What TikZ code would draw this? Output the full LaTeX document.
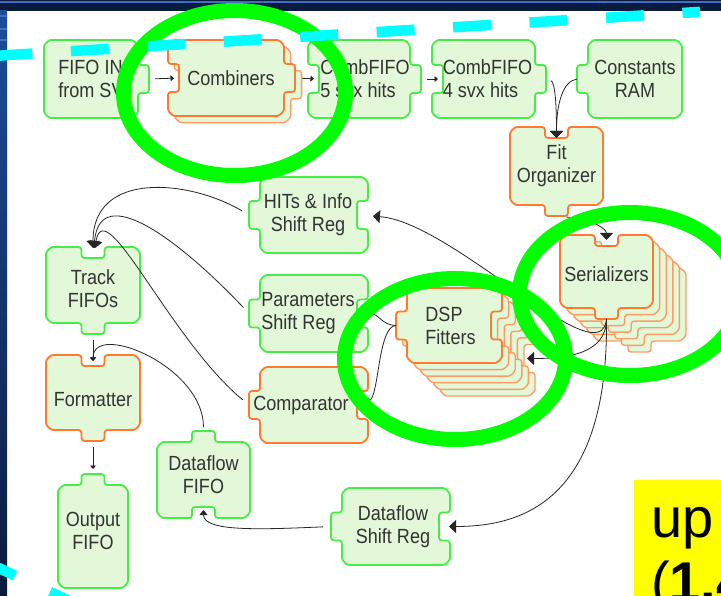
\documentclass[tikz,border=0pt]{standalone}
\usepackage{fontspec}
\setmainfont{Liberation Sans}[FakeStretch=0.88]
\newfontfamily\notefont{Liberation Sans}
\usepackage{xcolor}
\usepackage{tikz}
\usetikzlibrary{arrows.meta}

\definecolor{tilefill}{HTML}{E2F8D8}
\definecolor{tilegreen}{HTML}{44EE44}
\definecolor{tileorange}{HTML}{FF7A2E}
\definecolor{ringgreen}{HTML}{00FF00}
\definecolor{dashcyan}{HTML}{00FFFF}
\definecolor{noteyellow}{HTML}{FFFF00}
\definecolor{frameblue}{HTML}{1D4C9A}
\definecolor{framenavy}{HTML}{0B1B3E}
\definecolor{framelight}{HTML}{3F6FC4}

\newcommand\tilefont{\fontsize{20.5}{23}\selectfont}

% puzzle tiles: corner radius, tab half width (top/bottom), tab half height (sides), tab depth
\def\tabR{10}
\def\tabW{11.5}
\def\tabH{14}
\def\tabD{11}
\def\depthn{0}
\def\depthc{1}
\def\deptht{-1}

% side pieces: n = plain, c = notch cut in, t = tab sticking out
\def\sideNn{}
\def\sideNc{-- (\pX-\tabW,\pT) -- (\pX-\tabW,\pT+\tabD) -- (\pX+\tabW,\pT+\tabD) -- (\pX+\tabW,\pT)}
\def\sideNt{-- (\pX-\tabW,\pT) -- (\pX-\tabW,\pT-\tabD) -- (\pX+\tabW,\pT-\tabD) -- (\pX+\tabW,\pT)}
\def\sideEn{}
\def\sideEc{-- (\pR,\pY-\tabH) -- (\pR-\tabD,\pY-\tabH) -- (\pR-\tabD,\pY+\tabH) -- (\pR,\pY+\tabH)}
\def\sideEt{-- (\pR,\pY-\tabH) -- (\pR+\tabD,\pY-\tabH) -- (\pR+\tabD,\pY+\tabH) -- (\pR,\pY+\tabH)}
\def\sideSn{}
\def\sideSc{-- (\pX+\tabW,\pB) -- (\pX+\tabW,\pB-\tabD) -- (\pX-\tabW,\pB-\tabD) -- (\pX-\tabW,\pB)}
\def\sideSt{-- (\pX+\tabW,\pB) -- (\pX+\tabW,\pB+\tabD) -- (\pX-\tabW,\pB+\tabD) -- (\pX-\tabW,\pB)}
\def\sideWn{}
\def\sideWc{-- (\pL,\pY+\tabH) -- (\pL+\tabD,\pY+\tabH) -- (\pL+\tabD,\pY-\tabH) -- (\pL,\pY-\tabH)}
\def\sideWt{-- (\pL,\pY+\tabH) -- (\pL-\tabD,\pY+\tabH) -- (\pL-\tabD,\pY-\tabH) -- (\pL,\pY-\tabH)}

\tikzset{
  pN/.store in=\pN, pE/.store in=\pE, pS/.store in=\pS, pW/.store in=\pW,
  copies/.store in=\pCopies, rim/.store in=\pRim,
  tdx/.store in=\pDx, tdy/.store in=\pDy,
  talign/.style={tile text/.append style={align=#1}},
}

% \tile[options]{name}{left}{top}{right}{bottom}{text}
\newcommand{\tile}[7][]{%
  \begin{scope}[pN=n, pE=n, pS=n, pW=n, copies=0, rim=tilegreen, tdx=0, tdy=0, #1]
    \pgfmathsetmacro\pL{#3}\pgfmathsetmacro\pT{#4}%
    \pgfmathsetmacro\pR{#5}\pgfmathsetmacro\pB{#6}%
    \pgfmathsetmacro\pX{(#3+#5)/2}\pgfmathsetmacro\pY{(#4+#6)/2}%
    \edef\tilepath{(\pL,\pT+\tabR) arc[start angle=180, end angle=270, radius=\tabR]
      \csname sideN\pN\endcsname -- (\pR-\tabR,\pT) arc[start angle=270, end angle=360, radius=\tabR]
      \csname sideE\pE\endcsname -- (\pR,\pB-\tabR) arc[start angle=0, end angle=90, radius=\tabR]
      \csname sideS\pS\endcsname -- (\pL+\tabR,\pB) arc[start angle=90, end angle=180, radius=\tabR]
      \csname sideW\pW\endcsname -- cycle}%
    \ifnum\pCopies>0
      \foreach \layer in {\pCopies,...,1}
        \draw[tile back, shift={(\layer*6.6,\layer*6.6)}] \tilepath;
    \fi
    \draw[tile] \tilepath;
    % anchor points at the tab ends / notch floors
    \pgfmathsetmacro\yN{\pT+\csname depth\pN\endcsname*\tabD}%
    \pgfmathsetmacro\xE{\pR-\csname depth\pE\endcsname*\tabD}%
    \pgfmathsetmacro\yS{\pB-\csname depth\pS\endcsname*\tabD}%
    \pgfmathsetmacro\xW{\pL+\csname depth\pW\endcsname*\tabD}%
    \coordinate (#2-n) at (\pX,\yN);
    \coordinate (#2-e) at (\xE,\pY);
    \coordinate (#2-s) at (\pX,\yS);
    \coordinate (#2-w) at (\xW,\pY);
    \node[tile text] (#2) at (\pX+\pDx,\pY+\pDy) {#7};
  \end{scope}}

\begin{document}
\begin{tikzpicture}[x=1pt, y=-1pt,
    tile/.style={fill=tilefill, draw=\pRim, line width=1.8pt, rounded corners=3pt},
    tile back/.style={tile, draw=\pRim!75!white, line width=1.4pt},
    tile text/.style={font=\tilefont, text=black!80, align=center, inner sep=0pt},
    flow/.style={draw=black!85, line width=0.8pt, -{Triangle[length=7pt, width=13pt]}},
    link/.style={draw=black!85, line width=0.8pt, shorten <=6pt, shorten >=5pt, -{Triangle[length=3.5pt, width=6pt]}},
    ring/.style={draw=ringgreen, line width=15pt},
    dashline/.style={draw=dashcyan, line width=10.5pt, dash pattern=on 38pt off 38.6pt},
    note/.style={font=\notefont\fontsize{56}{60}\selectfont, inner sep=0pt, anchor=base west}
]
\useasboundingbox (0,0) rectangle (721,596);
\clip (0,0) rectangle (721,596);

% slide frame
\fill[white] (0,0) rectangle (721,596);
\fill[framenavy] (0,0) rectangle (721,11);
\fill[framelight] (0,1.5) rectangle (721,3.5);
\shade[top color=frameblue, bottom color=framenavy] (0,11) rectangle (7,596);
\foreach \yy in {15.5,28,39}
  \fill[framelight] (0,\yy) rectangle (7,\yy+2);

% top row
\tile[pE=t, talign=left]{fifoin}{44}{40}{138}{118}{FIFO IN\\from SV}
\tile[rim=tileorange, pW=c, pE=t, copies=1, tdx=5]{comb}{168}{40}{284}{116}{Combiners}
\tile[pW=c, pE=t, talign=left, tdx=6]{combfive}{308}{40}{410}{118}{CombFIFO\\5 svx hits}
\tile[pW=c, pE=t, talign=left, tdx=4]{combfour}{432}{40}{535}{118}{CombFIFO\\4 svx hits}
\tile[pW=t]{consts}{588}{40}{682}{118}{Constants\\RAM}

% fitting chain
\tile[rim=tileorange, pN=c, pS=t]{fit}{510}{127}{603}{205}{Fit\\Organizer}
\tile[rim=tileorange, pN=c, pS=t, copies=5, tdy=3]{ser}{560}{235}{653}{308}{Serializers}
\tile[rim=tileorange, pW=t, pE=c, copies=5, talign=left, tdx=-4]{dsp}{407}{288}{502}{363}{DSP\\Fitters}

% registers
\tile[pW=t, pE=c, tdx=-6]{hits}{260}{177}{368}{253}{HITs \& Info\\Shift Reg}
\tile[pW=t, pE=c, talign=left, tdx=-6]{params}{260}{275}{368}{352}{Parameters\\Shift Reg}
\tile[rim=tileorange, pW=t, pE=c, tdx=-13]{comp}{260}{367}{368}{443}{Comparator}
\tile[pW=t, pE=c, tdx=-3]{dfsr}{342}{488}{450}{565}{Dataflow\\Shift Reg}

% output side
\tile[pN=c, pS=t, tdy=4]{track}{46}{247}{140}{323}{Track\\FIFOs}
\tile[rim=tileorange, pN=c, pS=t, tdy=7]{fmt}{46}{355}{140}{430}{Formatter}
\tile[pN=t, tdy=-6]{out}{58}{485}{128}{588}{Output\\FIFO}
\tile[pN=t, pS=c, tdy=-5]{dff}{157}{442}{250}{518}{Dataflow\\FIFO}

% connections
\draw[link] (fifoin-e) -- (comb-w);
\draw[link, shorten <=7pt] (comb-e) -- (combfive-w);
\draw[link] (combfive-e) -- (combfour-w);
\draw[flow, shorten <=5pt] (combfour-e) .. controls +(9,3) and +(0,-35) .. (fit-n);
\draw[flow] (consts-w) .. controls +(-14,2) and +(0,-35) .. (fit-n);
\draw[flow, shorten <=10pt, shorten >=6pt] (fit-s) .. controls +(40,4) and +(0,-16) .. (ser-n);

\draw[flow, shorten >=16pt] (ser-s) .. controls +(-6,60) and +(96,7) .. (hits-e);
\draw[flow] (ser-s) .. controls +(0,35) and +(40,0) .. ([shift={(36,33)}]dsp-e);
\draw[flow, shorten >=10pt] (ser-s) .. controls +(2,185) and +(80,0) .. (dfsr-e);
\draw[link, shorten <=0pt, shorten >=10pt] (dsp-w) .. controls +(-14,0) and +(22,0) .. (params-e);
\draw[link, shorten <=0pt, shorten >=10pt] (dsp-w) .. controls +(-18,0) and +(22,-8) .. (comp-e);

\draw[flow, shorten <=8pt, shorten >=10pt] (hits-w) .. controls +(-59,-35) and +(0,-88) .. (track-n);
\draw[flow, shorten <=8pt, shorten >=10pt] (params-w) .. controls +(-69,-73) and +(7,-78) .. (track-n);
\draw[flow, shorten <=8pt, shorten >=10pt] (comp-w) .. controls +(-79,-65) and +(12,-68) .. (track-n);
\draw[link] (track-s) -- (fmt-n);
\draw[link, shorten <=4pt] (dff-n) .. controls +(0,-65) and +(0,-45) .. (fmt-n);
\draw[link] (fmt-s) -- (out-n);
\draw[flow, -{Triangle[length=5pt, width=8pt]}, shorten <=8pt, shorten >=3pt] (dfsr-w) .. controls +(-70,3) and +(0,25) .. (dff-s);

% highlights
\draw[ring] (234.5,93) ellipse [x radius=111, y radius=82.5];
\draw[ring] (455,359) ellipse [x radius=110.5, y radius=80.5];
\draw[ring] (630,294) ellipse [x radius=110.5, y radius=81.5];

\fill[noteyellow] (634,480) rectangle (721,596);
\node[note] (noteup) at (651,537) {up};
\node[note] (noteval) at (651,601) {(\textbf{1.4}};

\draw[dashline] (-5.6,55.95) -- (700,11.85);
\draw[dashline] (-19.4,559.5) -- (95,613);
\end{tikzpicture}
\end{document}
